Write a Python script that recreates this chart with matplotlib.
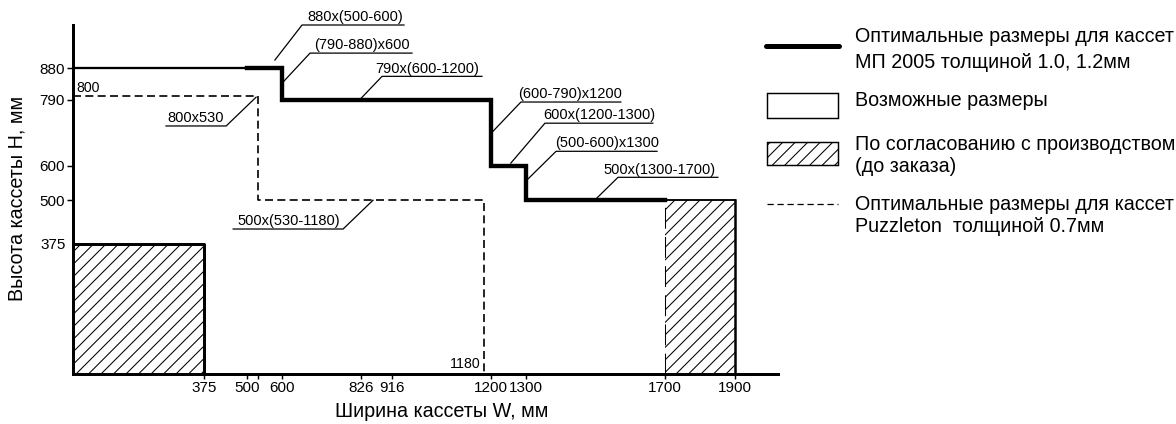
import matplotlib
matplotlib.use("Agg")
import matplotlib.pyplot as plt
from matplotlib.patches import Rectangle

plt.rcParams['font.family'] = ['Liberation Sans', 'DejaVu Sans']
plt.rcParams['hatch.linewidth'] = 0.5

# ---------------- data ----------------
# MP 2005 optimal sizes (thick stepped line): width W, height H
mp_w = [500, 600, 600, 1200, 1200, 1300, 1300, 1700]
mp_h = [880, 880, 790, 790, 600, 600, 500, 500]
# possible-size outline (thin)
outline_w = [0, 500]
outline_h = [880, 880]
# Puzzleton optimal sizes (dashed)
pz_w = [0, 530, 530, 1180, 1180]
pz_h = [800, 800, 500, 500, 0]
# "by agreement" hatched zones
zone_x = [0, 1700]
zone_w = [375, 200]
zone_h = [375, 500]

x_ticks = [375, 500, 530, 600, 826, 916, 1200, 1300, 1700, 1900]
x_tick_labels = ['375', '500', '', '600', '826', '916', '1200', '1300', '1700', '1900']
y_ticks = [500, 600, 790, 880]
y_tick_labels = ['500', '600', '790', '880']
y_minor_ticks = [375]
y_minor_labels = ['375']

# annotation texts
ann_texts = ['880x(500-600)', '(790-880)x600', '790x(600-1200)', '(600-790)x1200',
             '600x(1200-1300)', '(500-600)x1300', '500x(1300-1700)',
             '800x530', '500x(530-1180)']
# leader layout: start point, elbow, underline end, text left x
ann_start = [(579, 904), (602, 840), (824, 791), (1206, 699), (1257, 607),
             (1303, 558), (1504, 506), (525, 797), (861, 500)]
ann_elbow = [(657, 1005), (680, 924), (887, 857), (1286, 783), (1355, 722),
             (1387, 641), (1565, 566), (439, 714), (775, 417)]
ann_end_x = [950, 973, 1174, 1573, 1665, 1677, 1852, 266, 459]
ann_text_x = [671, 691, 866, 1278, 1349, 1384, 1522, 269, 470]

legend_labels = ['Оптимальные размеры для кассет\nМП 2005 толщиной 1.0, 1.2мм',
                 'Возможные размеры',
                 'По согласованию с производством\n(до заказа)',
                 'Оптимальные размеры для кассет\nPuzzleton  толщиной 0.7мм']

# ---------------- figure ----------------
DPI = 150
fig = plt.figure(figsize=(1176 / DPI, 424 / DPI), dpi=DPI)
ax = fig.add_axes([73.4 / 1176, 50.3 / 424, 704.7 / 1176, 348.7 / 424])
ax.set_xlim(0, 2025)
ax.set_ylim(0, 1005)
for s in ['top', 'right']:
    ax.spines[s].set_visible(False)
for s in ['left', 'bottom']:
    ax.spines[s].set_linewidth(1.44)

ax.set_xticks(x_ticks)
ax.set_xticklabels(x_tick_labels)
ax.set_yticks(y_ticks)
ax.set_yticklabels(y_tick_labels)
ax.set_yticks(y_minor_ticks, minor=True)
ax.set_yticklabels(y_minor_labels, minor=True)
ax.tick_params(axis='x', which='major', length=2.4, width=0.7, pad=1.0, labelsize=7.3)
ax.tick_params(axis='y', which='major', length=3.0, width=0.7, pad=1.0, labelsize=7.3)
ax.tick_params(axis='y', which='minor', length=0, pad=3.6, labelsize=7.3)

# hatched zones
ax.bar(zone_x, zone_h, width=zone_w, align='edge', fill=False, hatch='////',
       edgecolor='black', linewidth=0, zorder=1)
# borders of the zones
ax.plot([0, zone_w[0], zone_w[0]], [zone_h[0], zone_h[0], 0], color='black', lw=1.44, zorder=3)
ax.plot([zone_x[1], zone_x[1] + zone_w[1]], [zone_h[1], zone_h[1]], color='black', lw=0.9, zorder=3)
ax.plot([zone_x[1] + zone_w[1]] * 2, [0, zone_h[1]], color='black', lw=1.2, zorder=3)
ax.plot([zone_x[1]] * 2, [0, zone_h[1]], color='black', lw=0.5, dashes=(20, 8), zorder=3)

# outline of possible sizes
ax.plot(outline_w, outline_h, color='black', lw=1.1, zorder=3)
# MP 2005 line
ax.plot(mp_w, mp_h, color='black', lw=2.1, solid_joinstyle='miter', zorder=4)
# Puzzleton dashed
ax.plot(pz_w, pz_h, color='black', lw=0.8, dashes=(4.8, 2.6), zorder=4)

# annotations
for t, st, el, ex, tx in zip(ann_texts, ann_start, ann_elbow, ann_end_x, ann_text_x):
    ax.plot([st[0], el[0], ex], [st[1], el[1], el[1]], color='black', lw=0.6,
            clip_on=False, zorder=5)
    ax.text(tx, el[1] + 11, t, ha='left', va='baseline', fontsize=7, clip_on=False)

ax.text(8, 824, '800', ha='left', va='center', fontsize=6.8)
ax.text(1170, 8, '1180', ha='right', va='bottom', fontsize=6.8)

ax.set_xlabel('Ширина кассеты W, мм', fontsize=9.5)
ax.xaxis.set_label_coords((442 - 73.4) / 704.7, (373.7 - 402) / 348.7)
ax.set_ylabel('Высота кассеты H, мм', fontsize=9.5)
ax.yaxis.set_label_coords((27 - 73.4) / 704.7, (373.7 - 198) / 348.7)

# ---------------- legend (pixel coordinates) ----------------
lg = fig.add_axes([0, 0, 1, 1])
lg.set_xlim(0, 1176)
lg.set_ylim(424, 0)
lg.axis('off')
lg.plot([766, 839], [46, 46], color='black', lw=2.4, solid_capstyle='round')
lg.add_patch(Rectangle((767, 93), 71, 25, fill=False, edgecolor='black', lw=0.7))
lg.add_patch(Rectangle((767, 142), 71, 23, fill=False, edgecolor='black', lw=0.7, hatch='////'))
lg.plot([767, 838], [204, 204], color='black', lw=0.6, dashes=(5, 3))

leg_y = [(36, 62), (100,), (144, 167), (205, 226)]
for lab, ys in zip(legend_labels, leg_y):
    for line, y in zip(lab.split('\n'), ys):
        lg.text(855, y, line, ha='left', va='center', fontsize=9.5)

fig.savefig('out.png', dpi=DPI)
